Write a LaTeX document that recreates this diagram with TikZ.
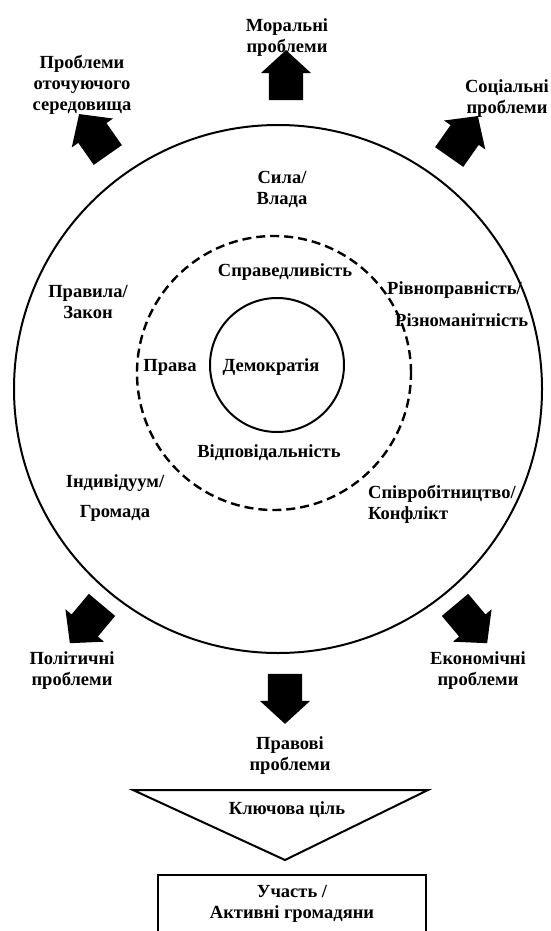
\documentclass[tikz,border=0pt]{standalone}
\usepackage{fontspec}
\setmainfont{Liberation Serif}
\usepackage{tikz}
\usetikzlibrary{shapes.arrows}
\usetikzlibrary{positioning}

\begin{document}
\begin{tikzpicture}[x=1pt,y=1pt,
        every node/.style={font=\bfseries\fontsize{18.5}{21}\selectfont,align=center,inner sep=0pt},
        ring/.style={draw,circle,line width=2pt},
        dashring/.style={draw,circle,line width=2.4pt,dash pattern=on 9pt off 5pt},
        bigarrow/.style={single arrow,fill=black,draw=none,inner xsep=0pt,inner ysep=17pt,minimum height=50pt,
            single arrow head extend=8pt,single arrow tip angle=95},
        goalbox/.style={draw,line width=1.5pt,minimum width=268pt,minimum height=58pt}]

    \useasboundingbox (0,0) rectangle (550,-931);

    \node[ring,minimum size=528pt] (outer) at (278,-389) {};
    \node[dashring,minimum size=274pt] (middle) at (274,-373) {};
    \node[ring,minimum size=134pt] (core) at (277,-365) {};

    \node[bigarrow,rotate=90] (aMoral) at (286,-83) {};
    \node[bigarrow,rotate=125] (aEnv) at (98,-141) {};
    \node[bigarrow,rotate=55] (aSocial) at (459,-143) {};
    \node[bigarrow,rotate=-130] (aPolit) at (91,-618) {};
    \node[bigarrow,rotate=-50] (aEcon) at (466,-618) {};
    \node[bigarrow,rotate=-90] (aLegal) at (285,-691) {};

    \node (moral) at (287,-38) {Моральні\\проблеми};
    \node (env) at (82,-85) {Проблеми\\оточуючого\\середовища};
    \node (social) at (507,-99) {Соціальні\\проблеми};
    \node (power) at (282,-189) {Сила/\\Влада};
    \node (justice) at (285,-272) {Справедливість};
    \node (rules) at (88,-302) {Правила/\\Закон};
    \node[anchor=west,align=left] (equal) at (387,-304) {Рівноправність/\\[11pt]\hspace*{8pt}Різноманітність};
    \node (rights) at (170,-367) {Права};
    \node (demo) at (271,-367) {Демократія};
    \node (resp) at (269,-453) {Відповідальність};
    \node (indiv) at (115,-498) {Індивідуум/\\[9pt]Громада};
    \node[anchor=west,align=left] (coop) at (368,-504) {Співробітництво/\\Конфлікт};
    \node (polit) at (72,-671) {Політичні\\проблеми};
    \node (econ) at (478,-671) {Економічні\\проблеми};
    \node (legal) at (290,-756) {Правові\\проблеми};

    \draw[line width=2pt,line join=miter] (133,-790) -- (428,-790) -- (285,-860) -- cycle;
    \node (goal) at (287,-810) {Ключова ціль};
    \node[goalbox] (particip) at (292,-904) {Участь /\\Активні громадяни};
\end{tikzpicture}
\end{document}
